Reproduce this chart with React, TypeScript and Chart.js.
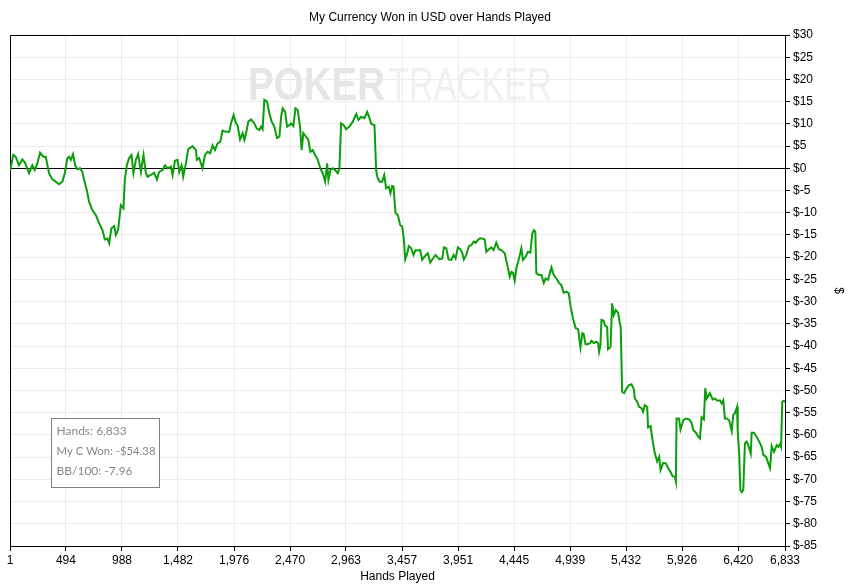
import { useEffect, useRef } from 'react';
import { Chart, registerables } from 'chart.js';

Chart.register(...registerables);

const chartTitle = 'My Currency Won in USD over Hands Played';
const xAxisTitle = 'Hands Played';
const yAxisTitle = '$';
const handTicks = [1, 494, 988, 1482, 1976, 2470, 2963, 3457, 3951, 4445, 4939, 5432, 5926, 6420, 6833];
const yMin = -85;
const yMax = 30;
const yStep = 5;
const summaryLines = ['Hands: 6,833', 'My C Won: -$54.38', 'BB/100: -7.96'];

// [hands played, currency won in USD]
const stretch1: [number, number][] = [
  [1, -0.5], [30, 3.0], [51, 2.6], [80, 0.7], [110, 2.0], [133, 1.3], [169, -1.1], [198, 0.7], [219, -0.4], [242, 1.1],
  [266, 3.5], [295, 2.6], [316, 2.6], [345, -1.1], [374, -2.5], [404, -3.0], [433, -3.6], [463, -3.0], [484, -1.1], [507, 2.3],
  [522, 2.6], [537, 1.9], [557, 3.2], [575, 0.7], [595, -0.2], [619, 0], [639, -0.8], [654, -2.6], [678, -4.9], [698, -7.5],
  [727, -9.4], [757, -10.5], [787, -12.4], [816, -13.9], [837, -16.0], [860, -15.8], [875, -16.9], [895, -13.5], [919, -13.0], [934, -15.0],
  [954, -13.9], [978, -8.3], [1001, -9.0], [1013, -2.6], [1031, 0.7], [1051, 2.3], [1072, 3.0], [1089, -1.1], [1111, 1.9], [1131, 3.2],
  [1155, -0.8], [1178, 3.0], [1199, -1.1], [1213, -1.9], [1243, -1.5], [1272, -1.0], [1296, -2.5], [1316, -0.8], [1345, -0.4], [1367, 0.7],
  [1390, 0], [1420, 0.4], [1434, -1.5], [1455, 1.7], [1478, 1.9], [1493, -0.8], [1513, 0.7], [1528, -1.9], [1552, 1.1], [1572, 4.3],
  [1610, 5.0], [1640, 4.1],
];

const stretch2: [number, number][] = [
  [1649, 1.9], [1669, 2.3], [1698, 0], [1720, 3.0], [1743, 3.7], [1766, 3.4], [1787, 5.2], [1808, 4.1], [1831, 5.6], [1855, 6.0],
  [1875, 8.5], [1905, 8.2], [1934, 8.2], [1949, 10.1], [1972, 12.0], [1993, 10.1], [2007, 9.7], [2029, 6.5], [2052, 7.9], [2067, 6.4],
  [2082, 7.9], [2102, 10.5], [2126, 11.0], [2155, 10.1], [2175, 9.0], [2199, 8.6], [2214, 9.4], [2228, 8.8], [2243, 15.4], [2267, 15.0],
  [2287, 12.4], [2308, 10.5], [2331, 9.4], [2355, 6.8], [2376, 7.1], [2391, 11.6], [2405, 13.5], [2426, 12.7], [2444, 9.4], [2464, 9.7],
  [2479, 10.1], [2499, 9.5], [2517, 13.5], [2537, 13.1], [2558, 9.4], [2572, 4.1], [2587, 7.9], [2611, 7.1], [2631, 6.4], [2649, 3.7],
  [2669, 4.1], [2691, 3.0], [2714, 1.9], [2737, 0], [2758, -1.1], [2779, -3.0], [2797, 1.1], [2808, -2.6], [2826, -0.4], [2846, 0],
  [2867, -0.4], [2890, -1.1], [2905, 0], [2920, 10.1], [2943, 9.7], [2964, 8.8], [2993, 9.4], [3023, 10.5], [3053, 12.2], [3073, 10.9],
  [3097, 11.6], [3126, 11.3], [3150, 12.7], [3170, 11.3], [3185, 10.0], [3214, 9.7], [3229, -0.5], [3240, -2.0],
];

const stretch3: [number, number][] = [
  [3258, -3.0], [3282, -3.0], [3300, -1.5], [3317, -4.5], [3340, -4.1], [3355, -5.6], [3370, -4.0], [3382, -4.1], [3399, -10.0], [3420, -10.5],
  [3441, -12.8], [3459, -13.1], [3473, -16.1], [3485, -20.5], [3499, -19.5], [3517, -17.5], [3538, -18.0], [3558, -19.5], [3576, -18.4], [3596, -18.5],
  [3617, -18.4], [3635, -20.6], [3655, -19.9], [3684, -19.1], [3706, -21.2], [3729, -20.3], [3752, -19.5], [3788, -20.5], [3812, -20.3], [3826, -17.8],
  [3847, -18.0], [3867, -20.5], [3891, -20.6], [3911, -19.5], [3929, -20.3], [3949, -17.8], [3971, -18.2], [3988, -19.1], [4002, -20.5], [4023, -19.5],
  [4047, -17.5], [4068, -17.3], [4088, -16.5], [4106, -16.8], [4126, -16.1], [4141, -15.8], [4165, -15.8], [4185, -16.0], [4200, -18.8], [4223, -18.2],
  [4244, -17.8], [4264, -18.4], [4288, -16.7], [4311, -18.2], [4332, -18.4], [4362, -19.1], [4382, -21.4], [4406, -24.4], [4421, -23.3], [4435, -23.5],
  [4450, -25.3], [4465, -22.5], [4488, -20.3], [4509, -18.0], [4523, -20.6], [4547, -19.9], [4567, -18.8], [4588, -19.0], [4606, -14.6], [4620, -13.9],
  [4632, -14.3], [4641, -23.6], [4664, -24.0], [4686, -24.0], [4706, -25.8], [4723, -24.8], [4744, -25.1], [4774, -22.3], [4794, -24.0], [4818, -24.8],
  [4841, -25.8], [4862, -26.3], [4882, -28.0], [4906, -27.8], [4926, -28.1], [4944, -31.2], [4964, -33.8], [4988, -36.0], [5009, -36.2], [5030, -40.3],
  [5047, -37.1], [5059, -37.3], [5074, -39.6],
];

const stretch4: [number, number][] = [
  [5088, -39.6], [5112, -39.4], [5127, -38.8], [5147, -39.3], [5171, -39.0], [5185, -39.3], [5194, -41.3], [5206, -39.8], [5215, -34.1], [5235, -34.3],
  [5244, -35.3], [5265, -35.7], [5273, -40.7], [5295, -40.2], [5309, -30.4], [5324, -33.0], [5341, -31.9], [5362, -32.5], [5377, -34.9], [5385, -35.7],
  [5397, -50.3], [5415, -50.6], [5436, -49.5], [5459, -48.8], [5480, -48.6], [5500, -49.7], [5509, -51.8], [5529, -52.5], [5547, -53.7], [5568, -54.0],
  [5582, -54.8], [5597, -53.3], [5618, -53.7], [5626, -58.3], [5648, -58.0], [5665, -61.2], [5686, -64.2], [5706, -66.0], [5724, -64.9], [5736, -67.9],
  [5759, -66.3], [5783, -66.4], [5803, -67.5], [5824, -68.3], [5842, -69.3], [5862, -69.4], [5871, -70.5], [5877, -56.3], [5898, -56.3], [5912, -58.8],
  [5936, -56.7], [5959, -56.3], [5988, -56.5], [6010, -57.3], [6024, -58.9], [6048, -59.5], [6068, -60.4], [6083, -60.8], [6098, -56.0], [6118, -56.5],
  [6130, -49.5], [6142, -51.8], [6171, -50.6], [6195, -52.0], [6215, -51.8], [6236, -52.3], [6259, -52.2], [6275, -52.9], [6289, -52.2], [6303, -56.3],
  [6318, -56.3], [6341, -56.7], [6363, -59.1], [6377, -55.5], [6392, -55.1], [6410, -53.7], [6416, -58.9], [6430, -64.9], [6440, -72.4], [6452, -72.9],
  [6465, -72.4], [6480, -61.9], [6495, -61.5], [6509, -62.3], [6531, -64.2], [6539, -59.5], [6559, -59.5], [6583, -60.4], [6606, -61.5], [6627, -62.7], [6642, -64.5],
  [6665, -64.9], [6686, -66.4], [6701, -67.5], [6716, -62.5], [6736, -63.8], [6760, -62.3], [6774, -62.7], [6789, -62.1], [6798, -62.7], [6809, -52.5],
  [6823, -52.3], [6833, -52.6],
];

const axisFont = { family: "'Liberation Sans', Arial, sans-serif", size: 12, weight: 'normal' as const };

const decorPlugin = {
  id: 'decor',
  beforeDatasetsDraw(chart: any) {
    const { ctx, chartArea } = chart;
    ctx.save();
    // watermark
    ctx.textBaseline = 'alphabetic';
    ctx.textAlign = 'left';
    ctx.fillStyle = '#e6e6e6';
    ctx.font = "bold 47px 'Liberation Sans', Arial, sans-serif";
    ctx.fillText('POKER', 248, 100, 137);
    ctx.fillStyle = '#f0f0f0';
    ctx.font = "47px 'Liberation Sans', Arial, sans-serif";
    ctx.fillText('TRACKER', 388, 100, 164);
    // left and top frame
    ctx.strokeStyle = '#000';
    ctx.lineWidth = 1;
    ctx.beginPath();
    ctx.moveTo(Math.round(chartArea.left) + 0.5, chartArea.bottom);
    ctx.lineTo(Math.round(chartArea.left) + 0.5, Math.round(chartArea.top) + 0.5);
    ctx.lineTo(chartArea.right, Math.round(chartArea.top) + 0.5);
    ctx.stroke();
    ctx.restore();
  },
  afterDatasetsDraw(chart: any) {
    const { ctx } = chart;
    ctx.save();
    ctx.fillStyle = '#fff';
    ctx.fillRect(51.5, 418.5, 108, 69);
    ctx.strokeStyle = '#808080';
    ctx.lineWidth = 1;
    ctx.strokeRect(51.5, 418.5, 108, 69);
    ctx.fillStyle = '#888888';
    ctx.font = "12px Lato, 'Noto Sans', sans-serif";
    ctx.textBaseline = 'middle';
    ctx.textAlign = 'left';
    summaryLines.forEach((line, i) => ctx.fillText(line, 56.5, 431 + i * 20, 99));
    ctx.restore();
  },
};

export default function App() {
  const ref = useRef<HTMLCanvasElement>(null);
  useEffect(() => {
    const points = [...stretch1, ...stretch2, ...stretch3, ...stretch4].map(([x, y]) => ({ x, y }));
    const chart = new Chart(ref.current!, {
      type: 'line',
      data: {
        datasets: [
          {
            data: points,
            borderColor: '#0a9e0a',
            borderWidth: 2,
            pointRadius: 0,
            tension: 0,
            fill: false,
          },
        ],
      },
      options: {
        animation: false,
        responsive: false,
        layout: { padding: { left: 10, right: 0, top: 0, bottom: 0 } },
        plugins: {
          legend: { display: false },
          tooltip: { enabled: false },
          title: {
            display: true,
            text: chartTitle,
            color: '#000',
            font: axisFont,
            padding: { top: 10, bottom: 10.6 },
          },
        },
        scales: {
          x: {
            type: 'linear',
            min: handTicks[0],
            max: handTicks[handTicks.length - 1],
            afterBuildTicks: (s: any) => {
              s.ticks = handTicks.map((v) => ({ value: v }));
            },
            afterFit: (s: any) => {
              s.height = 40;
            },
            ticks: {
              autoSkip: false,
              maxRotation: 0,
              color: '#000',
              font: axisFont,
              padding: 2,
              callback: (v: any) => Number(v).toLocaleString('en-US'),
            },
            grid: { color: '#ebebeb', tickColor: '#000', tickLength: 5 },
            border: { color: '#000' },
            title: { display: true, text: xAxisTitle, color: '#000', font: axisFont, padding: { top: 0, bottom: 1.8 } },
          },
          y: {
            position: 'right',
            min: yMin,
            max: yMax,
            afterFit: (s: any) => {
              s.width = 65;
            },
            ticks: {
              stepSize: yStep,
              color: '#000',
              font: axisFont,
              padding: 3,
              callback: (v: any) => '$' + v,
            },
            grid: {
              color: (c: any) => (c.tick && c.tick.value === 0 ? '#000' : '#ebebeb'),
              tickColor: '#000',
              tickLength: 5,
            },
            border: { color: '#000' },
            title: { display: true, text: yAxisTitle, color: '#000', font: axisFont, padding: { top: 4.5, bottom: 0 } },
          },
        },
      } as any,
      plugins: [decorPlugin],
    });
    return () => chart.destroy();
  }, []);
  return (
    <div style={{ position: 'absolute', left: 0, top: 0, width: 850, height: 586, background: '#fff' }}>
      <canvas ref={ref} width={850} height={586} style={{ display: 'block' }} />
    </div>
  );
}
